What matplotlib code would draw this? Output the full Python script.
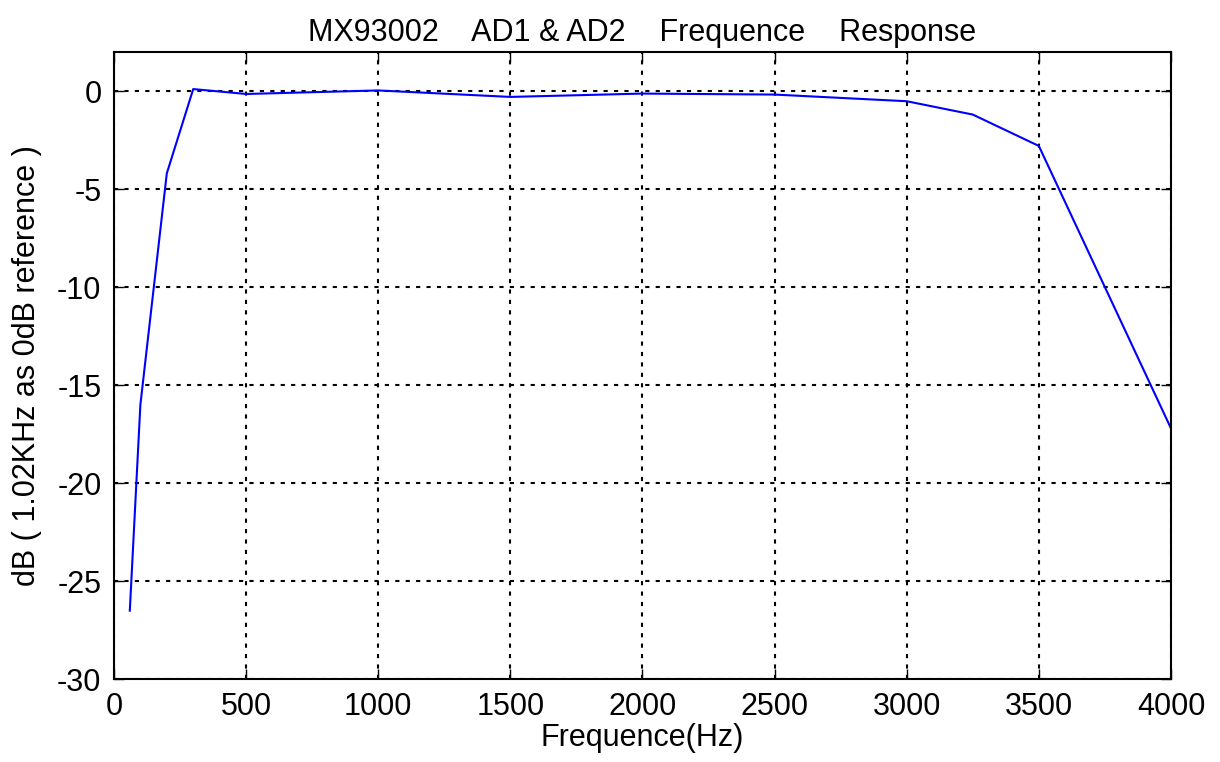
import matplotlib
matplotlib.use('Agg')
import matplotlib.pyplot as plt

freq = [60, 100, 200, 300, 500, 1000, 1500, 2000, 2500, 3000, 3250, 3500, 4000]
db = [-26.5, -16.0, -4.2, 0.1, -0.15, 0.03, -0.3, -0.13, -0.18, -0.52, -1.2, -2.8, -17.2]

xticks = [0, 500, 1000, 1500, 2000, 2500, 3000, 3500, 4000]
yticks = [0, -5, -10, -15, -20, -25, -30]

plt.rcParams['font.family'] = ['Liberation Sans', 'DejaVu Sans']
plt.rcParams['axes.unicode_minus'] = False

fig = plt.figure(figsize=(12.2, 7.62), dpi=100)
ax = fig.add_axes([0.0934, 0.1085, 0.8664, 0.8235])

ax.plot(freq, db, color='#0000ff', linewidth=1.5)

ax.set_xlim(0, 4000)
ax.set_ylim(-30, 2)
ax.set_xticks(xticks)
ax.set_yticks(yticks)
ax.grid(True, color='black', linestyle=(0, (2, 3)), linewidth=1.5)
ax.tick_params(direction='in', length=7, width=1, labelsize=22,
               top=True, right=True, pad=9)
for s in ax.spines.values():
    s.set_linewidth(1.5)

ax.set_title('MX93002    AD1 & AD2    Frequence    Response', fontsize=22, pad=8)
ax.set_xlabel('Frequence(Hz)', fontsize=22)
ax.set_ylabel('dB ( 1.02KHz as 0dB reference )', fontsize=22)
ax.xaxis.set_label_coords(0.5, -0.07)
ax.yaxis.set_label_coords(-0.068, 0.5)

fig.savefig('out.png', dpi=100)
